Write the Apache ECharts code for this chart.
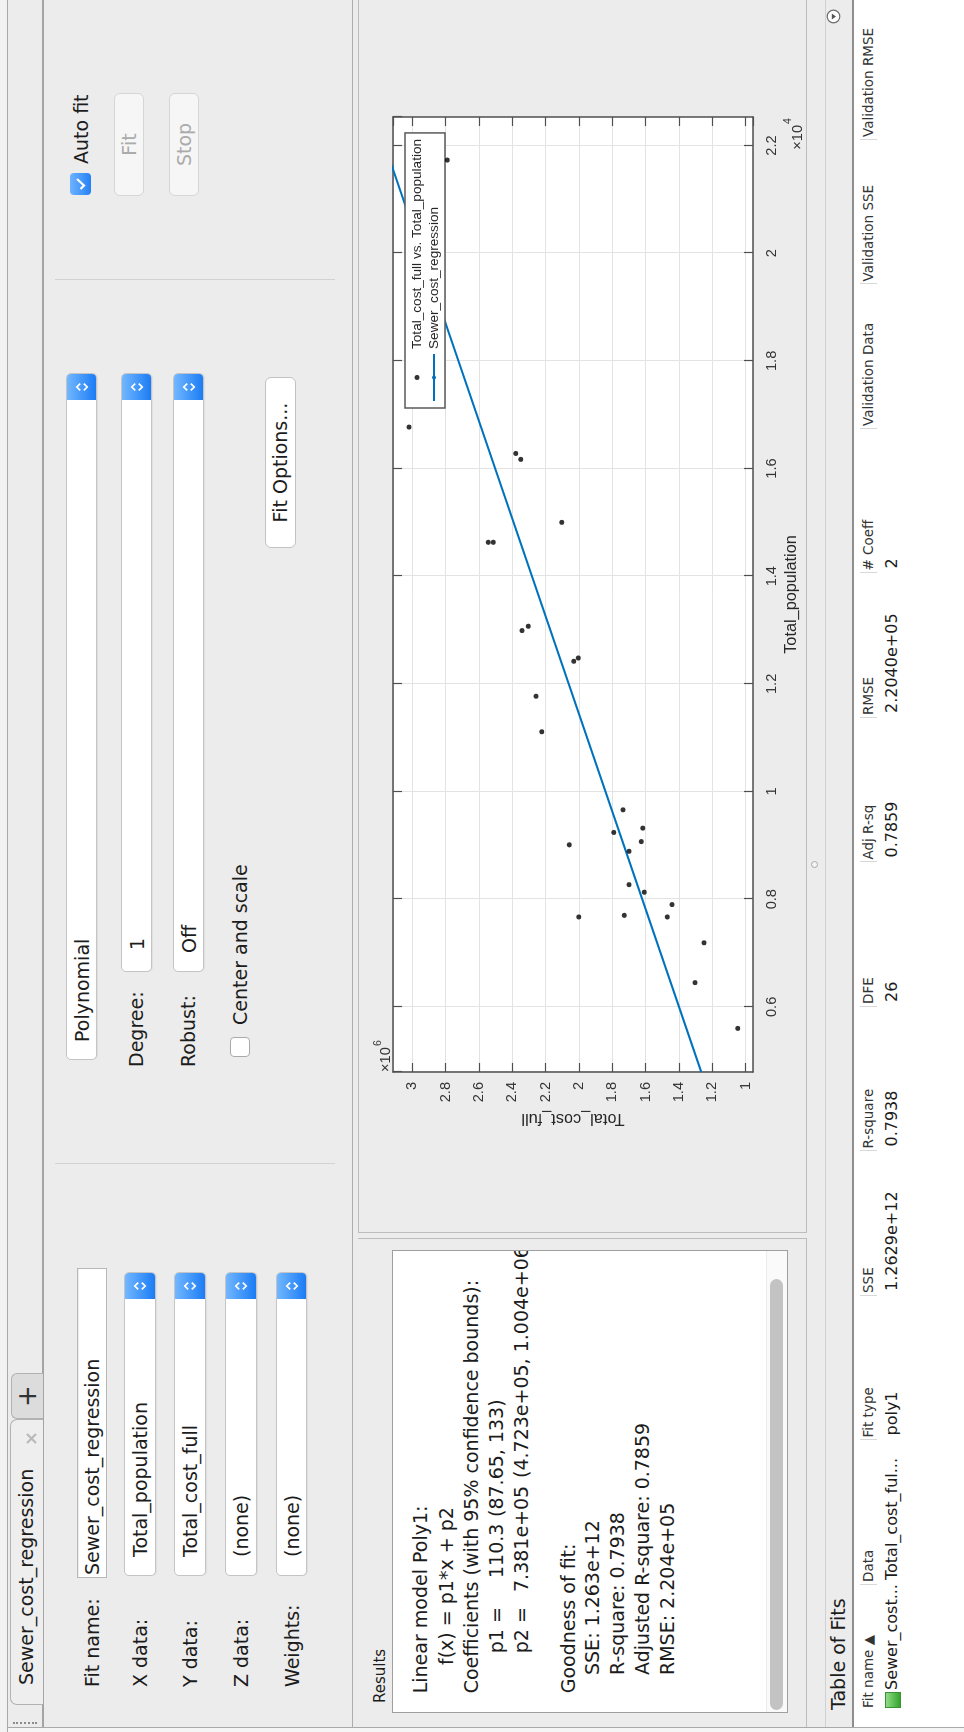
<!DOCTYPE html>
<html>
<head>
<meta charset="utf-8">
<title>Sewer_cost_regression</title>
<script src="https://cdn.jsdelivr.net/npm/echarts@6.0.0/dist/echarts.min.js"></script>
<style>
  html, body { margin: 0; padding: 0; width: 964px; height: 1732px; overflow: hidden; background: #ececec; }
  /* The app window is laid out in landscape and turned a quarter turn */
  #app { position: absolute; left: 0; top: 0; width: 1732px; height: 964px;
         transform-origin: 0 0; transform: translate(0, 1732px) rotate(-90deg);
         background: #ececec; font-family: "DejaVu Sans", sans-serif; font-size: 19px;
         color: #1c1c1c; overflow: hidden; }
  #app div { position: absolute; box-sizing: border-box; }
  .t { white-space: nowrap; height: 24px; line-height: 24px; }
  .popup { background: #fff; border: 1px solid #c4c4c4; border-radius: 5px; overflow: hidden;
           box-shadow: 0 1px 1px rgba(0,0,0,0.06); }
  .cap { right: 0; top: 0; width: 26px; height: 100%;
         background: linear-gradient(#72b7ff, #1b7cf5); }
  .cap svg { position: absolute; left: 8px; top: 50%; margin-top: -8px; }
  .btn { border-radius: 6px; text-align: center; }
  .th { font-size: 13.5px; color: #333; }
  .td { font-size: 16px; color: #1c1c1c; }
  .sep { width: 1px; height: 17px; background: #d8d8d8; }
</style>
</head>
<body>
<div id="app"></div>
<script>
// ---------------- data ----------------
const population = [5600, 6450, 7190, 7670, 7900, 7700, 7670, 8130, 8270, 8890,
                    9070, 9320, 9240, 9010, 9660, 11110, 11770, 12420, 12480, 12990,
                    13070, 14630, 14630, 15000, 16280, 16170, 16770, 21730];
const totalCostFull = [1048000, 1304000, 1250000, 1470000, 1442000, 1728000, 2002000, 1608000, 1700000, 1700000,
                       1626000, 1618000, 1792000, 2058000, 1736000, 2224000, 2258000, 2032000, 2004000, 2342000,
                       2304000, 2544000, 2514000, 2104000, 2380000, 2350000, 3020000, 2790000];
// poly1 coefficients of the fit: f(x) = p1*x + p2
const p1 = 110.3;
const p2 = 7.381e5;
const populationLimits = [4790, 22530];
const costLimits = [956000, 3116000];
const seriesNames = ['Total_cost_full vs. Total_population', 'Sewer_cost_regression'];

const tableHeaders = ['Fit name \u25B2', 'Data', 'Fit type', 'SSE', 'R-square', 'DFE',
                      'Adj R-sq', 'RMSE', '# Coeff', 'Validation Data', 'Validation SSE', 'Validation RMSE'];
const tableRow = ['Sewer_cost...', 'Total_cost_ful...', 'poly1', '1.2629e+12', '0.7938', '26',
                  '0.7859', '2.2040e+05', '2', '', '', ''];

// ---------------- window layout helpers ----------------
const app = document.getElementById('app');
function el(parent, x, y, w, h, css, text, cls) {
  const d = document.createElement('div');
  if (cls) d.className = cls;
  let s = 'left:' + x + 'px;top:' + y + 'px;';
  if (w != null) s += 'width:' + w + 'px;';
  if (h != null) s += 'height:' + h + 'px;';
  d.style.cssText = s + (css || '');
  if (text != null) d.textContent = text;
  parent.appendChild(d);
  return d;
}
function txt(parent, x, cy, text, css) { return el(parent, x, cy - 12, null, 24, css, text, 't'); }
const CHEVRONS = '<svg width="10" height="16" viewBox="0 0 10 16"><path d="M1.6 6.2 L5 2.8 L8.4 6.2 M1.6 9.8 L5 13.2 L8.4 9.8" fill="none" stroke="#fff" stroke-width="1.7"/></svg>';
function popup(x, y, w, h, text, textX) {
  const p = el(app, x, y, w, h, '', null, 'popup');
  if (text) txt(p, textX - x - 1, h / 2 - 1, text);
  const cap = document.createElement('div');
  cap.className = 'cap';
  cap.innerHTML = CHEVRONS;
  p.appendChild(cap);
  return p;
}

// window edges and tab strip
el(app, 0, 0, 5, 964, 'background:#f5f5f5;border-right:1px solid #a9a9a9;');
el(app, 0, 0, 1732, 8, 'background:#f2f2f2;border-bottom:1px solid #a8a8a8;');
el(app, 5, 42, 1727, 2, 'background:#a4a4a4;');
el(app, 8, 13, 2, 24, 'border-left:2px dotted #8c8c8c;');
el(app, 27, 10, 286, 33, 'background:#eeeeee;border:1px solid #b2b2b2;border-bottom:none;border-radius:7px 7px 0 0;');
txt(app, 47, 26, 'Sewer_cost_regression');
el(app, 287, 20, 13, 13, '').innerHTML =
  '<svg width="13" height="13" viewBox="0 0 13 13"><path d="M2 2 L11 11 M11 2 L2 11" stroke="#b9b9b9" stroke-width="2.2"/></svg>';
el(app, 313, 11, 46, 32, 'background:#dcdcdc;border:1px solid #b2b2b2;border-bottom:none;border-radius:6px 6px 0 0;');
el(app, 313, 12, 46, 30, 'text-align:center;line-height:30px;font-size:26px;color:#333;', '+');

// ---------------- fit settings panel ----------------
el(app, 5, 352, 1727, 1, 'background:#adadad;');
txt(app, 45, 92, 'Fit name:');
txt(app, 45, 140, 'X data:');
txt(app, 45, 190, 'Y data:');
txt(app, 45, 241, 'Z data:');
txt(app, 45, 292, 'Weights:');
const nameBox = el(app, 154, 77, 310, 30, 'background:#fff;border:1px solid #b8b8b8;box-shadow:inset 0 1px 1px rgba(0,0,0,0.08);');
txt(nameBox, 2, 14, 'Sewer_cost_regression');
popup(156, 124, 304, 32, 'Total_population', 175);
popup(156, 174, 304, 32, 'Total_cost_full', 175);
popup(156, 225, 304, 32, '(none)', 175);
popup(156, 276, 304, 31, '(none)', 175);

el(app, 568, 55, 1, 280, 'background:#d2d2d2;');
popup(672, 66, 687, 31, 'Polynomial', 690);
txt(app, 665, 136, 'Degree:');
popup(760, 121, 599, 31, '1', 782);
txt(app, 665, 188, 'Robust:');
popup(760, 173, 599, 31, 'Off', 779);
el(app, 675, 230, 20, 20, 'background:#fff;border:1px solid #a9a9a9;border-radius:4px;');
txt(app, 707, 240, 'Center and scale');
el(app, 1184, 265, 171, 31, 'background:#fff;border:1px solid #c2c2c2;line-height:29px;', 'Fit Options...', 'btn');

el(app, 1452, 55, 1, 280, 'background:#d2d2d2;');
el(app, 1537, 70, 22, 21, 'background:linear-gradient(#6fb3ff,#2481f6);border-radius:4px;').innerHTML =
  '<svg width="22" height="21" viewBox="0 0 22 21" style="position:absolute;left:0;top:0"><path d="M6 10.5 L9.5 14 L16 7" fill="none" stroke="#fff" stroke-width="2.2"/></svg>';
txt(app, 1568, 81, 'Auto fit');
el(app, 1536, 114, 103, 30, 'background:#f6f6f6;border:1px solid #d6d6d6;line-height:28px;color:#ababab;', 'Fit', 'btn');
el(app, 1536, 169, 103, 30, 'background:#f6f6f6;border:1px solid #d6d6d6;line-height:28px;color:#ababab;', 'Stop', 'btn');

// ---------------- results panel ----------------
el(app, 5, 358, 489, 449, 'border-right:1px solid #bdbdbd;border-bottom:1px solid #bdbdbd;');
el(app, 29, 371, null, 18, 'font-size:15px;line-height:18px;white-space:nowrap;', 'Results');
const res = el(app, 19, 392, 463, 396, 'background:#fff;border:1px solid #9f9f9f;overflow:hidden;');
const resultLines = [
  ['Linear model Poly1:', 38.7, 420],
  ['f(x) = p1*x + p2', 67, 446],
  ['Coefficients (with 95% confidence bounds):', 38.7, 471],
  ['p1 =', 78.7, 496], [String(p1), 154, 496], ['(87.65, 133)', 215, 496],
  ['p2 =', 78.7, 521], [p2.toExponential(3).replace('e+', 'e+0'), 140, 521], ['(4.723e+05, 1.004e+06)', 254, 521],
  ['Goodness of fit:', 38.7, 568],
  ['SSE: 1.263e+12', 57, 592],
  ['R-square: 0.7938', 57, 617],
  ['Adjusted R-square: 0.7859', 57, 642],
  ['RMSE: 2.204e+05', 57, 667]
];
resultLines.forEach(([s, x, cy]) => txt(res, x - 20, cy - 393, s));
el(res, 0, 373, 461, 21, 'background:#fafafa;border-top:1px solid #ececec;');
el(res, 2, 377, 431, 13, 'background:#c3c3c3;border-radius:7px;');

// ---------------- plot panel ----------------
el(app, 499, 358, 1233, 449, 'border-left:1px solid #bdbdbd;border-top:1px solid #bdbdbd;border-bottom:1px solid #bdbdbd;');
const plotDiv = el(app, 499, 358, 1233, 449, '');
plotDiv.id = 'plot';

// ---------------- table of fits ----------------
el(app, 5, 825, 1727, 1, 'background:#d0d0d0;');
el(app, 864, 811, 7, 7, 'border:1px solid #a8a8a8;border-radius:50%;background:#f4f4f4;');
txt(app, 22, 838, 'Table of Fits');
el(app, 1708, 823, 15, 15, '').innerHTML =
  '<svg width="15" height="15" viewBox="0 0 15 15"><circle cx="7.5" cy="7.5" r="6.3" fill="#fff" stroke="#6f6f6f" stroke-width="1.2"/><path d="M4.6 5.8 L10.4 5.8 L7.5 10 Z" fill="#555"/></svg>';
const table = el(app, 5, 852, 1727, 112, 'background:#fff;border-top:2px solid #8e8e8e;');
// column separators: equal-width columns after the first three
const colSep = [5, 147, 291.5, 436, 580.5, 725, 869.5, 1014, 1158.5, 1303, 1447.5, 1592];
colSep.forEach((sx, i) => {
  if (i > 0) el(table, sx - 5, 6, 1, 17, '', null, 'sep');
  const hx = i === 0 ? 24 : sx + 3;
  const vx = i === 0 ? 42 : sx + 5;
  txt(table, hx - 5, 14, tableHeaders[i]).className = 't th';
  if (tableRow[i]) txt(table, vx - 5, 38, tableRow[i]).className = 't td';
});
el(table, 19, 31, 16, 16, 'background:linear-gradient(#8fdc86,#34a52c);border:1px solid #3c8f35;');

// ---------------- chart ----------------
const FONT = '"Liberation Sans", Arial, sans-serif';
const AX = '#4f4f4f';
const TICK_FONT = 14.6;
const points = population.map((x, i) => [x, totalCostFull[i]]);
const fitLine = populationLimits.map(x => [x, p1 * x + p2]);
const tickFmt = scale => v => String(+(v / scale).toFixed(3));

function boxAxis(extra) {
  return Object.assign({
    type: 'value',
    axisLine: { show: true, onZero: false, lineStyle: { color: AX, width: 1.5 } },
    axisTick: { show: true, inside: true, length: 9, lineStyle: { color: AX, width: 1.2 } },
    axisLabel: { show: false },
    splitLine: { show: false }
  }, extra);
}

const chart = echarts.init(plotDiv, null, { renderer: 'canvas' });
chart.setOption({
  animation: false,
  textStyle: { fontFamily: FONT },
  grid: { left: 161, top: 35, width: 955, height: 360, show: true, backgroundColor: '#ffffff',
          borderWidth: 0, containLabel: false, outerBoundsMode: 'none' },
  xAxis: [
    boxAxis({
      position: 'bottom', min: populationLimits[0], max: populationLimits[1], splitNumber: 9,
      name: 'Total_population', nameLocation: 'middle', nameGap: 31, nameMoveOverlap: false,
      nameTextStyle: { fontSize: 16.3, color: '#262626', fontFamily: FONT },
      axisLabel: { show: true, margin: 11, fontSize: TICK_FONT, color: '#333', fontFamily: FONT,
                   showMinLabel: false, showMaxLabel: false, formatter: tickFmt(1e4) },
      splitLine: { show: true, lineStyle: { color: '#e3e3e3', width: 1 } }
    }),
    boxAxis({ position: 'top', min: populationLimits[0], max: populationLimits[1], splitNumber: 9 })
  ],
  yAxis: [
    boxAxis({
      position: 'left', min: costLimits[0], max: costLimits[1], splitNumber: 11,
      name: 'Total_cost_full', nameLocation: 'middle', nameRotate: 90, nameGap: 38, nameMoveOverlap: false,
      nameTextStyle: { fontSize: 16.3, color: '#262626', fontFamily: FONT },
      axisLabel: { show: true, margin: 10, fontSize: TICK_FONT, color: '#333', fontFamily: FONT,
                   showMinLabel: false, showMaxLabel: false, formatter: tickFmt(1e6) },
      splitLine: { show: true, lineStyle: { color: '#e3e3e3', width: 1 } }
    }),
    boxAxis({ position: 'right', min: costLimits[0], max: costLimits[1], splitNumber: 11 })
  ],
  legend: {
    show: true, orient: 'vertical', left: 825, top: 47,
    backgroundColor: '#ffffff', borderColor: '#5a5a5a', borderWidth: 1.5, borderRadius: 0,
    padding: [5, 6, 4, 6], itemGap: 3, itemWidth: 47, itemHeight: 5,
    selectedMode: false, symbolKeepAspect: true,
    textStyle: { fontSize: 13.6, color: '#262626', fontFamily: FONT },
    data: seriesNames
  },
  series: [
    { name: seriesNames[0], type: 'scatter', data: points, symbol: 'circle', symbolSize: 5,
      itemStyle: { color: '#000000' }, z: 4 },
    { name: seriesNames[1], type: 'line', data: fitLine, symbol: 'none', showSymbol: false, clip: true,
      lineStyle: { color: '#0072BD', width: 2 }, itemStyle: { color: '#0072BD' }, z: 3 }
  ],
  graphic: [
    { type: 'text', x: 1108, y: 440, silent: true,
      style: { text: '\u00D710', fill: '#333', fontSize: TICK_FONT, fontFamily: FONT, align: 'right', verticalAlign: 'middle' } },
    { type: 'text', x: 1109, y: 430, silent: true,
      style: { text: '4', fill: '#333', fontSize: 10.5, fontFamily: FONT, align: 'left', verticalAlign: 'middle' } },
    { type: 'text', x: 161, y: 27.5, silent: true,
      style: { text: '\u00D710', fill: '#333', fontSize: TICK_FONT, fontFamily: FONT, align: 'left', verticalAlign: 'middle' } },
    { type: 'text', x: 187, y: 20.5, silent: true,
      style: { text: '6', fill: '#333', fontSize: 10.5, fontFamily: FONT, align: 'left', verticalAlign: 'middle' } }
  ]
});
</script>
</body>
</html>
